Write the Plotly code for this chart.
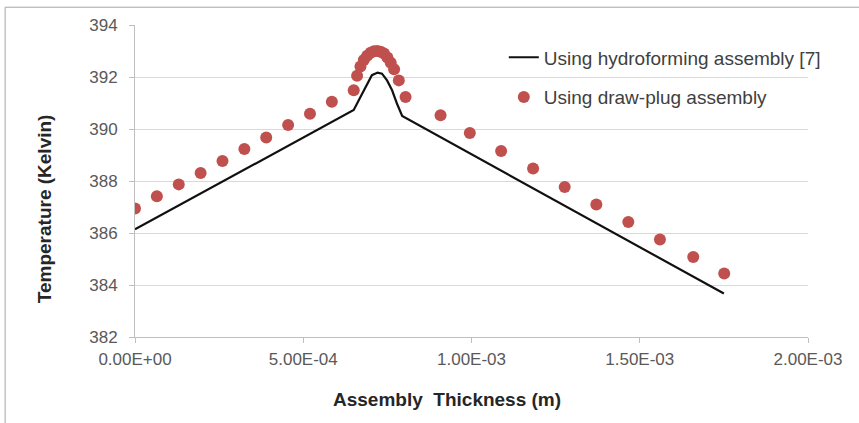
import plotly.graph_objects as go

# Hydroforming assembly (line)
line_x = [0.0, 6.50e-4, 6.70e-4, 6.90e-4, 7.04e-4, 7.21e-4, 7.34e-4, 7.49e-4,
          7.64e-4, 7.79e-4, 7.94e-4, 1.75e-3]
line_y = [386.14, 390.73, 391.23, 391.74, 392.07, 392.17, 392.13, 391.87,
          391.49, 390.96, 390.50, 383.67]

# Draw-plug assembly (dots)
dot_x = [0.0, 6.5e-5, 1.30e-4, 1.95e-4, 2.60e-4, 3.25e-4, 3.90e-4, 4.55e-4,
         5.20e-4, 5.85e-4, 6.50e-4, 6.60e-4, 6.70e-4, 6.80e-4, 6.90e-4,
         7.00e-4, 7.10e-4, 7.20e-4, 7.30e-4, 7.40e-4, 7.50e-4, 7.60e-4,
         7.70e-4, 7.84e-4, 8.04e-4, 9.08e-4, 9.95e-4, 1.088e-3, 1.183e-3,
         1.277e-3, 1.371e-3, 1.466e-3, 1.560e-3, 1.659e-3, 1.751e-3]
dot_y = [386.94, 387.41, 387.87, 388.31, 388.77, 389.23, 389.67, 390.15,
         390.59, 391.05, 391.49, 392.05, 392.40, 392.65, 392.82,
         392.93, 392.99, 393.00, 392.97, 392.90, 392.75, 392.55,
         392.30, 391.87, 391.23, 390.53, 389.85, 389.15, 388.48,
         387.77, 387.10, 386.42, 385.75, 385.08, 384.44]

x_ticks = [0, 5e-4, 1e-3, 1.5e-3, 2e-3]
x_tick_text = ["0.00E+00", "5.00E-04", "1.00E-03", "1.50E-03", "2.00E-03"]
y_ticks = [382, 384, 386, 388, 390, 392, 394]

FONT = "Liberation Sans, Arial, sans-serif"

fig = go.Figure()
fig.add_trace(go.Scatter(
    x=line_x, y=line_y, mode="lines",
    name="Using hydroforming assembly [7]",
    line=dict(color="#111111", width=2.2),
    legendgroup="a",
))
fig.add_trace(go.Scatter(
    x=dot_x, y=dot_y, mode="markers",
    name="Using draw-plug assembly",
    marker=dict(color="#C0504D", size=12, line=dict(width=0)),
    legendgroup="b",
))

axis_font = dict(family=FONT, size=17, color="#595959")
title_font = dict(family=FONT, size=19, color="#262626")

fig.update_layout(
    width=859, height=423,
    margin=dict(l=135, r=51, t=25, b=86),
    paper_bgcolor="white", plot_bgcolor="white",
    showlegend=True,
    legend=dict(
        x=0.548, y=0.957, xanchor="left", yanchor="top",
        bgcolor="rgba(0,0,0,0)",
        font=dict(family=FONT, size=19, color="#404040"),
        tracegroupgap=12, traceorder="grouped",
        itemwidth=30,
    ),
    xaxis=dict(
        range=[0, 2e-3], tickvals=x_ticks, ticktext=x_tick_text,
        showgrid=False, zeroline=False,
        showline=True, linecolor="#BFBFBF", linewidth=1,
        ticks="outside", ticklen=5, tickcolor="#BFBFBF",
        tickfont=axis_font, ticklabelstandoff=2,
    ),
    yaxis=dict(
        range=[382, 394], tickvals=y_ticks,
        showgrid=True, gridcolor="#D9D9D9", gridwidth=1,
        zeroline=False,
        showline=True, linecolor="#BFBFBF", linewidth=1,
        ticks="outside", ticklen=5, tickcolor="#BFBFBF",
        tickfont=axis_font, ticklabelstandoff=8,
    ),
    annotations=[
        dict(text="<b>Assembly  Thickness (m)</b>", xref="paper", yref="paper",
             x=0.4636, y=-0.20, xanchor="center", yanchor="middle",
             showarrow=False, font=title_font),
        dict(text="<b>Temperature (Kelvin)</b>", xref="paper", yref="paper",
             x=-0.135, y=0.41, xanchor="center", yanchor="middle",
             textangle=-90, showarrow=False, font=title_font),
    ],
    shapes=[dict(
        type="rect", xref="paper", yref="paper",
        x0=-0.193, x1=1.10, y0=-0.4, y1=1.057,
        line=dict(color="#A6A6A6", width=1), fillcolor="rgba(0,0,0,0)",
        layer="below",
    )],
)

fig.write_html("out.html")
